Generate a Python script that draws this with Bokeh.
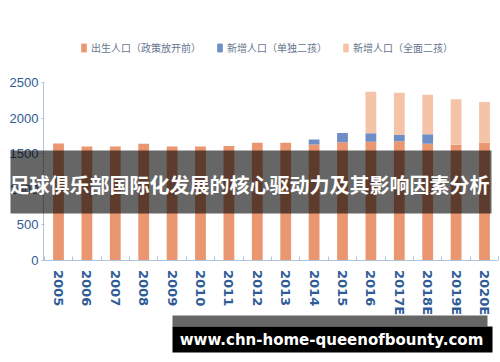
from bokeh.plotting import figure
from bokeh.models import ColumnDataSource, Range1d, FixedTicker, BoxAnnotation, Label
from bokeh.embed import file_html
from bokeh.resources import INLINE

years = ["2005", "2006", "2007", "2008", "2009", "2010", "2011", "2012", "2013", "2014",
         "2015", "2016", "2017E", "2018E", "2019E", "2020E"]
base = [1645, 1600, 1600, 1640, 1600, 1600, 1610, 1655, 1655, 1630, 1660, 1670, 1675, 1640, 1625, 1655]
single = [0, 0, 0, 0, 0, 0, 0, 0, 0, 70, 132, 117, 90, 135, 0, 0]
full = [0, 0, 0, 0, 0, 0, 0, 0, 0, 0, 0, 585, 596, 556, 643, 574]
series_names = ["出生人口（政策放开前）", "新增人口（单独二孩）", "新增人口（全面二孩）"]
colors = ["#ea9670", "#6f8ec6", "#f5c3a8"]
y_ticks = [0, 500, 1000, 1500, 2000, 2500]

W, H = 500, 362
# pixel layout of the plotting area inside the canvas
X0_PX, STEP_PX = 58.0, 28.4          # centre of first bar, bar spacing
Y0_PX, YSCALE = 259.5, 177.2 / 2500  # pixel row of value 0, px per unit

src = ColumnDataSource(dict(x=list(range(len(years))), base=base, single=single, full=full))

p = figure(width=W, height=H, output_backend="svg", toolbar_location=None,
           x_range=Range1d(-X0_PX / STEP_PX, (W - X0_PX) / STEP_PX),
           y_range=Range1d(-(H - Y0_PX) / YSCALE, Y0_PX / YSCALE),
           min_border=0)
p.outline_line_color = None
p.xgrid.visible = False
p.ygrid.visible = False
p.background_fill_color = "white"
p.border_fill_color = "white"

p.vbar_stack(["base", "single", "full"], x="x", width=0.38, color=colors, source=src,
             line_color=None, legend_label=series_names)

tick_color = "#2f5b96"
axis_color = "#b0c3dc"

x_left = (43 - X0_PX) / STEP_PX
x_right = (497 - X0_PX) / STEP_PX

p.yaxis.fixed_location = x_left
p.yaxis.bounds = (0, 2500)
p.yaxis.ticker = FixedTicker(ticks=y_ticks)
p.yaxis.axis_line_color = axis_color
p.yaxis.major_tick_line_color = axis_color
p.yaxis.major_tick_in = 1
p.yaxis.major_tick_out = 2
p.yaxis.minor_tick_line_color = None
p.yaxis.major_label_text_color = tick_color
p.yaxis.major_label_text_font = "Liberation Sans Narrow, Liberation Sans"
p.yaxis.major_label_text_font_size = "13px"
p.yaxis.major_label_standoff = 3

p.xaxis.fixed_location = 0
p.xaxis.bounds = (x_left, x_right)
p.xaxis.ticker = FixedTicker(ticks=list(range(len(years))),
                             minor_ticks=[i - 0.5 for i in range(len(years) + 1)])
p.xaxis.major_label_overrides = {i: y for i, y in enumerate(years)}
p.xaxis.axis_line_color = axis_color
p.xaxis.major_tick_line_color = None
p.xaxis.major_tick_in = 0
p.xaxis.major_tick_out = 0
p.xaxis.minor_tick_line_color = axis_color
p.xaxis.minor_tick_in = 4
p.xaxis.minor_tick_out = 0
p.xaxis.major_label_orientation = "vertical"
p.xaxis.major_label_text_color = tick_color
p.xaxis.major_label_text_font = "DejaVu Sans"
p.xaxis.major_label_text_font_style = "bold"
p.xaxis.major_label_text_font_size = "13px"
p.xaxis.major_label_standoff = 10

lg = p.legend[0]
lg.orientation = "horizontal"
lg.location = (80, H - 55)
lg.padding = 0
lg.margin = 0
lg.spacing = 15
lg.label_standoff = 4
lg.glyph_width = 7
lg.glyph_height = 11
lg.border_line_alpha = 0
lg.background_fill_alpha = 0
lg.label_text_font = "Noto Sans CJK SC"
lg.label_text_font_size = "10px"
lg.label_text_color = "#66768e"

scr = dict(left_units="screen", right_units="screen", top_units="screen", bottom_units="screen")

# overlay band with title
p.add_layout(BoxAnnotation(left=10, right=491, top=H - 150, bottom=H - 213, **scr,
                           fill_color="black", fill_alpha=0.6, line_alpha=0))
p.add_layout(Label(x=249, y=H - 184, x_units="screen", y_units="screen",
                   text="足球俱乐部国际化发展的核心驱动力及其影响因素分析",
                   text_align="center", text_baseline="middle", text_color="white",
                   text_font="Noto Sans CJK SC", text_font_style="bold", text_font_size="20px"))

# bottom watermark
p.add_layout(BoxAnnotation(left=172, right=487, top=H - 315, bottom=H - 326, **scr,
                           fill_color="black", fill_alpha=0.6, line_alpha=0))
p.add_layout(BoxAnnotation(left=172, right=492, top=H - 326, bottom=H - 352, **scr,
                           fill_color="black", fill_alpha=1.0, line_alpha=0))
p.add_layout(Label(x=331, y=H - 339, x_units="screen", y_units="screen",
                   text="www.chn-home-queenofbounty.com",
                   text_align="center", text_baseline="middle", text_color="white",
                   text_font="DejaVu Sans", text_font_style="bold", text_font_size="15px"))

open("out.html", "w").write(file_html(p, INLINE))
